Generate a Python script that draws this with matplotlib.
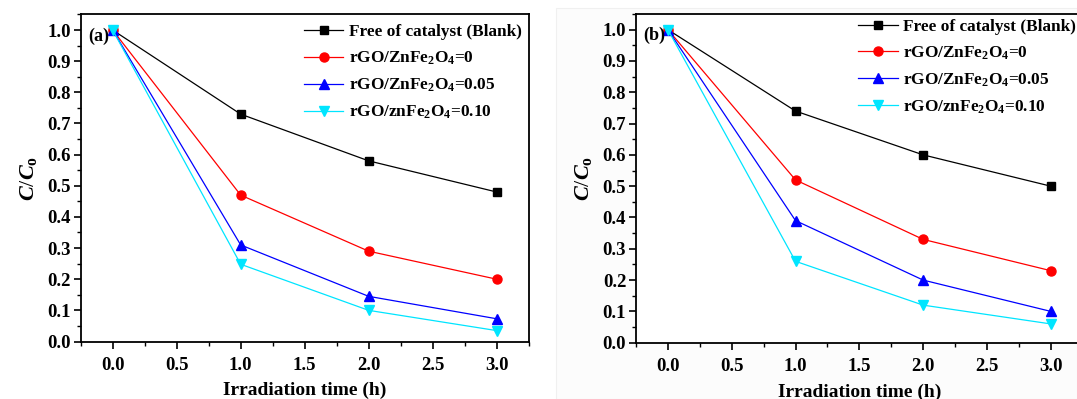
import matplotlib
matplotlib.use("Agg")
import matplotlib.pyplot as plt
from matplotlib.ticker import MultipleLocator
from matplotlib.patches import Rectangle

plt.rcParams["font.family"] = "Liberation Serif"
plt.rcParams["font.weight"] = "bold"
plt.rcParams["mathtext.fontset"] = "custom"
plt.rcParams["mathtext.rm"] = "Liberation Serif:bold"
plt.rcParams["mathtext.bf"] = "Liberation Serif:bold"
plt.rcParams["mathtext.it"] = "Liberation Serif:bold:italic"

# irradiation time (h)
time_h = [0.0, 1.0, 2.0, 3.0]

labels = ["Free of catalyst (Blank)",
          r"rGO/ZnFe$_2$O$_4$=0",
          r"rGO/ZnFe$_2$O$_4$=0.05",
          r"rGO/znFe$_2$O$_4$=0.10"]

# panel (a)
a_blank = [1.0, 0.73, 0.58, 0.48]
a_r000 = [1.0, 0.47, 0.29, 0.20]
a_r005 = [1.0, 0.31, 0.145, 0.073]
a_r010 = [1.0, 0.248, 0.10, 0.035]

# panel (b)
b_blank = [1.0, 0.74, 0.60, 0.50]
b_r000 = [1.0, 0.52, 0.33, 0.23]
b_r005 = [1.0, 0.39, 0.20, 0.10]
b_r010 = [1.0, 0.26, 0.12, 0.06]

colors = ["black", "red", "blue", "#00e5ff"]
markers = ["s", "o", "^", "v"]
msizes = [5.5, 6.5, 6.5, 6.5]

fig = plt.figure(figsize=(10.77, 3.99), dpi=100)
# faint background of the second picture
fig.patches.append(Rectangle((556/1077, 0), 1 - 556/1077, 1 - 8/399,
                             transform=fig.transFigure, facecolor="#fcfcfc",
                             edgecolor="#f0f0f0", lw=0.8, zorder=-10))

ax1 = fig.add_axes([0.0749, 0.1441, 0.416, 0.8196])
ax2 = fig.add_axes([0.5905, 0.1411, 0.4148, 0.8238])
ax2.set_facecolor("white")


def draw(ax, series, tag, leg_top):
    for s, lab, c, m, ms in zip(series, labels, colors, markers, msizes):
        ax.plot(time_h, s, color=c, marker=m, markersize=ms, lw=0.9,
                markeredgecolor=c, label=lab, clip_on=False)
    ax.set_xlim(-0.25, 3.25)
    ax.set_ylim(0, 1.05)
    ax.xaxis.set_major_locator(MultipleLocator(0.5))
    ax.xaxis.set_minor_locator(MultipleLocator(0.25))
    ax.yaxis.set_major_locator(MultipleLocator(0.1))
    ax.yaxis.set_minor_locator(MultipleLocator(0.05))
    ax.xaxis.set_major_formatter(plt.FormatStrFormatter("%.1f"))
    ax.yaxis.set_major_formatter(plt.FormatStrFormatter("%.1f"))
    ax.tick_params(which="major", direction="out", length=5, width=1.2,
                   labelsize=13.5, pad=2)
    ax.tick_params(which="minor", direction="out", length=3, width=1.0)
    ax.tick_params(axis="x", pad=6)
    for sp in ax.spines.values():
        sp.set_linewidth(1.3)
    ax.set_xlabel("Irradiation time (h)", fontsize=14, fontweight="bold",
                  labelpad=6)
    ax.set_ylabel(r"$C$/$C_{\rm o}$", fontsize=16, labelpad=6)
    ax.text(0.017, 0.934, tag, transform=ax.transAxes, fontsize=13,
            fontweight="bold", va="center")
    ax.legend(loc="upper left", bbox_to_anchor=(0.498, leg_top),
              frameon=False, fontsize=12.4, borderpad=0, borderaxespad=0,
              handlelength=2.3, handletextpad=0.3, labelspacing=0.55)


draw(ax1, [a_blank, a_r000, a_r005, a_r010], "(a)", 0.97)
draw(ax2, [b_blank, b_r000, b_r005, b_r010], "(b)", 0.985)

fig.savefig("out.png", dpi=100)
